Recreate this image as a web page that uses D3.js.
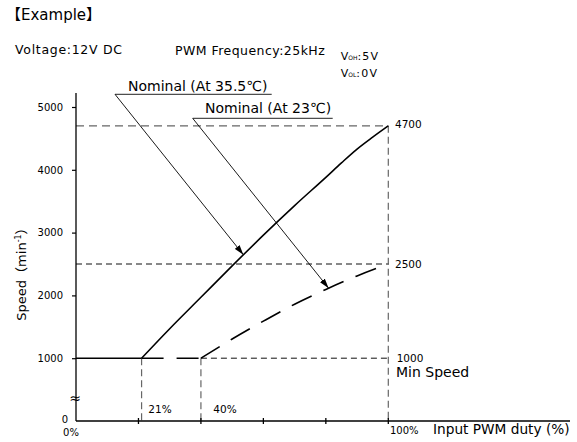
<!DOCTYPE html>
<html><head><meta charset="utf-8">
<script src="https://cdn.jsdelivr.net/npm/d3@7"></script>
<style>
body{margin:0;background:#fff}
svg{display:block;font-family:"DejaVu Sans","Noto Sans CJK JP",sans-serif}
</style></head><body>
<svg id="c" width="577" height="442"></svg>
<script>
// ---- data ----
const duty355 = [0, 21, 30, 40, 50, 60, 70, 80, 85, 90, 95, 100];
const speed355 = [1000, 1000, 1470, 1970, 2470, 2960, 3430, 3880, 4110, 4330, 4520, 4700];
const duty23 = [0, 40, 50, 60, 70, 80, 90, 100];
const speed23 = [1000, 1000, 1305, 1590, 1860, 2095, 2310, 2500];
const yTicks = [1000, 2000, 3000, 4000, 5000];
const xTicks = [20, 40, 60, 80, 100];
const maxSpeed355 = 4700, maxSpeed23 = 2500, minSpeed = 1000;
const startDuty355 = 21, startDuty23 = 40;
const arrowDuty355 = 53.6, arrowDuty23 = 80.9;
const label355 = "Nominal (At 35.5℃)", label23 = "Nominal (At 23℃)";

const svg = d3.select("#c");
const x = d3.scaleLinear().domain([0, 100]).range([76, 388.3]);
const y = d3.scaleLinear().domain([0, 5000]).range([421, 107]);

// marker
svg.append("defs").append("marker")
  .attr("id","arr").attr("markerUnits","userSpaceOnUse")
  .attr("viewBox","0 0 10 6").attr("refX",10).attr("refY",3)
  .attr("markerWidth",10).attr("markerHeight",6).attr("orient","auto")
  .append("path").attr("d","M0,0L10,3L0,6Z").attr("fill","#000");

// guide lines
const g = svg.append("g").attr("fill","none");
g.append("line").attr("x1",x(0)).attr("x2",x(100)).attr("y1",y(maxSpeed355)).attr("y2",y(maxSpeed355))
  .attr("stroke","#666").attr("stroke-width",1.2).attr("stroke-dasharray","8,5");
g.append("line").attr("x1",x(0)).attr("x2",x(100)).attr("y1",y(maxSpeed23)).attr("y2",y(maxSpeed23))
  .attr("stroke","#111").attr("stroke-width",1).attr("stroke-dasharray","6,4");
g.append("line").attr("x1",x(startDuty23)).attr("x2",x(100)).attr("y1",y(minSpeed)).attr("y2",y(minSpeed))
  .attr("stroke","#111").attr("stroke-width",1).attr("stroke-dasharray","6,4");
g.append("line").attr("x1",x(100)).attr("x2",x(100)).attr("y1",y(maxSpeed355)).attr("y2",y(0))
  .attr("stroke","#666").attr("stroke-width",1.2).attr("stroke-dasharray","7,4");
[startDuty355, startDuty23].forEach(d=>{
  g.append("line").attr("x1",x(d)).attr("x2",x(d)).attr("y1",y(minSpeed)).attr("y2",y(0))
    .attr("stroke","#666").attr("stroke-width",1.2).attr("stroke-dasharray","7,4");
});

// axes
const ax = svg.append("g").attr("stroke","#000");
ax.append("line").attr("x1",x(0)).attr("x2",x(0)).attr("y1",93).attr("y2",y(0)).attr("stroke-width",1.3);
ax.append("line").attr("x1",x(0)).attr("x2",570).attr("y1",y(0)).attr("y2",y(0)).attr("stroke-width",1.3);

const yAxis = d3.axisLeft(y).tickValues(yTicks).tickSize(4).tickPadding(9).tickFormat(d3.format("d"));
const ya = svg.append("g").attr("transform",`translate(${x(0)},0)`).call(yAxis);
ya.select(".domain").remove();
ya.selectAll("line").attr("stroke","#000").attr("stroke-width",1.2);
ya.selectAll("text").attr("font-size",10).attr("font-family","DejaVu Sans").attr("fill","#000");

svg.append("g").selectAll("line").data(xTicks).join("line")
  .attr("x1",d=>x(d)).attr("x2",d=>x(d)).attr("y1",y(0)-3).attr("y2",y(0)+3)
  .attr("stroke","#000").attr("stroke-width",1.3);

// curves
const pts355 = duty355.map((d,i)=>[d,speed355[i]]);
const pts23 = duty23.map((d,i)=>[d,speed23[i]]);
const lin = d3.line().x(d=>x(d[0])).y(d=>y(d[1]));
const mono = d3.line().x(d=>x(d[0])).y(d=>y(d[1])).curve(d3.curveMonotoneX);

svg.append("path").attr("d",lin(pts355.filter(p=>p[0]<=startDuty355)))
  .attr("fill","none").attr("stroke","#000").attr("stroke-width",1.6);
svg.append("path").attr("d",mono(pts355.filter(p=>p[0]>=startDuty355)))
  .attr("fill","none").attr("stroke","#000").attr("stroke-width",1.6);

svg.append("path").attr("d",lin([[startDuty355, speed23[0]], ...pts23.filter(p=>p[0]===startDuty23)]))
  .attr("fill","none").attr("stroke","#000").attr("stroke-width",1.6).attr("stroke-dasharray","22,13");
svg.append("path").attr("d",mono(pts23.filter(p=>p[0]>=startDuty23)))
  .attr("fill","none").attr("stroke","#000").attr("stroke-width",1.6).attr("stroke-dasharray","22,13");

// annotations
const f355 = d3.scaleLinear().domain(duty355.slice(1)).range(speed355.slice(1));
const f23 = d3.scaleLinear().domain(duty23.slice(1)).range(speed23.slice(1));
function annot(text, tx, ty, ux1, ux2, uy, duty, fn){
  svg.append("text").attr("x",tx).attr("y",ty).attr("font-size",14).attr("fill","#000").text(text);
  svg.append("line").attr("x1",ux1).attr("x2",ux2).attr("y1",uy).attr("y2",uy)
    .attr("stroke","#222").attr("stroke-width",1);
  svg.append("line").attr("x1",ux1).attr("y1",uy).attr("x2",x(duty)).attr("y2",y(fn(duty)))
    .attr("stroke","#000").attr("stroke-width",0.9).attr("marker-end","url(#arr)");
}
annot(label355, 128, 90.7, 115, 271.7, 94.3, arrowDuty355, f355);
annot(label23, 205, 113, 192.7, 332.7, 118.3, arrowDuty23, f23);

// texts
const T = (s,xx,yy,fs,opt={})=>{
  const t = svg.append("text").attr("x",xx).attr("y",yy).attr("font-size",fs).attr("fill","#000").text(s);
  if(opt.anchor) t.attr("text-anchor",opt.anchor);
  if(opt.ls) t.attr("letter-spacing",opt.ls);
  return t;
};
T("【Example】", 6, 20, 15);
T("Voltage:12V DC", 15, 54.3, 12.5, {ls:0.7});
T("PWM Frequency:25kHz", 175, 55, 12.5, {ls:0.45});

function vlabel(sub, val, yy){
  const t = svg.append("text").attr("x",340.7).attr("y",yy).attr("font-size",11).attr("fill","#000");
  t.append("tspan").text("V");
  t.append("tspan").attr("font-size",6).text(sub);
  t.append("tspan").attr("letter-spacing",1.2).text(":"+val);
}
vlabel("OH","5V",60);
vlabel("OL","0V",76.7);

T(String(maxSpeed355), 395, 128.3, 10.5);
T(String(maxSpeed23), 395, 267.7, 10.5);
T(String(minSpeed), 396.7, 361.7, 10.5);
T("Min Speed", 396, 376.7, 14);
T(startDuty355+"%", 148.3, 412.7, 10.5);
T(startDuty23+"%", 213.3, 412.7, 10.5);
T("0", 68, 423.3, 10, {anchor:"end"});
T("0%", 71, 435.5, 10, {anchor:"middle"});
T("100%", 390, 434, 10);
T("Input PWM duty (%)", 433, 434, 13.7);
T("≈", 75, 403, 14, {anchor:"middle"});

const yl = svg.append("text").attr("transform","translate(25.5,271) rotate(-90)")
  .attr("text-anchor","middle").attr("font-size",13).attr("fill","#000");
yl.append("tspan").text("Speed（min");
yl.append("tspan").attr("font-size",8).attr("dy",-5).text("-1");
yl.append("tspan").attr("dy",5).text("）");
</script>
</body></html>
